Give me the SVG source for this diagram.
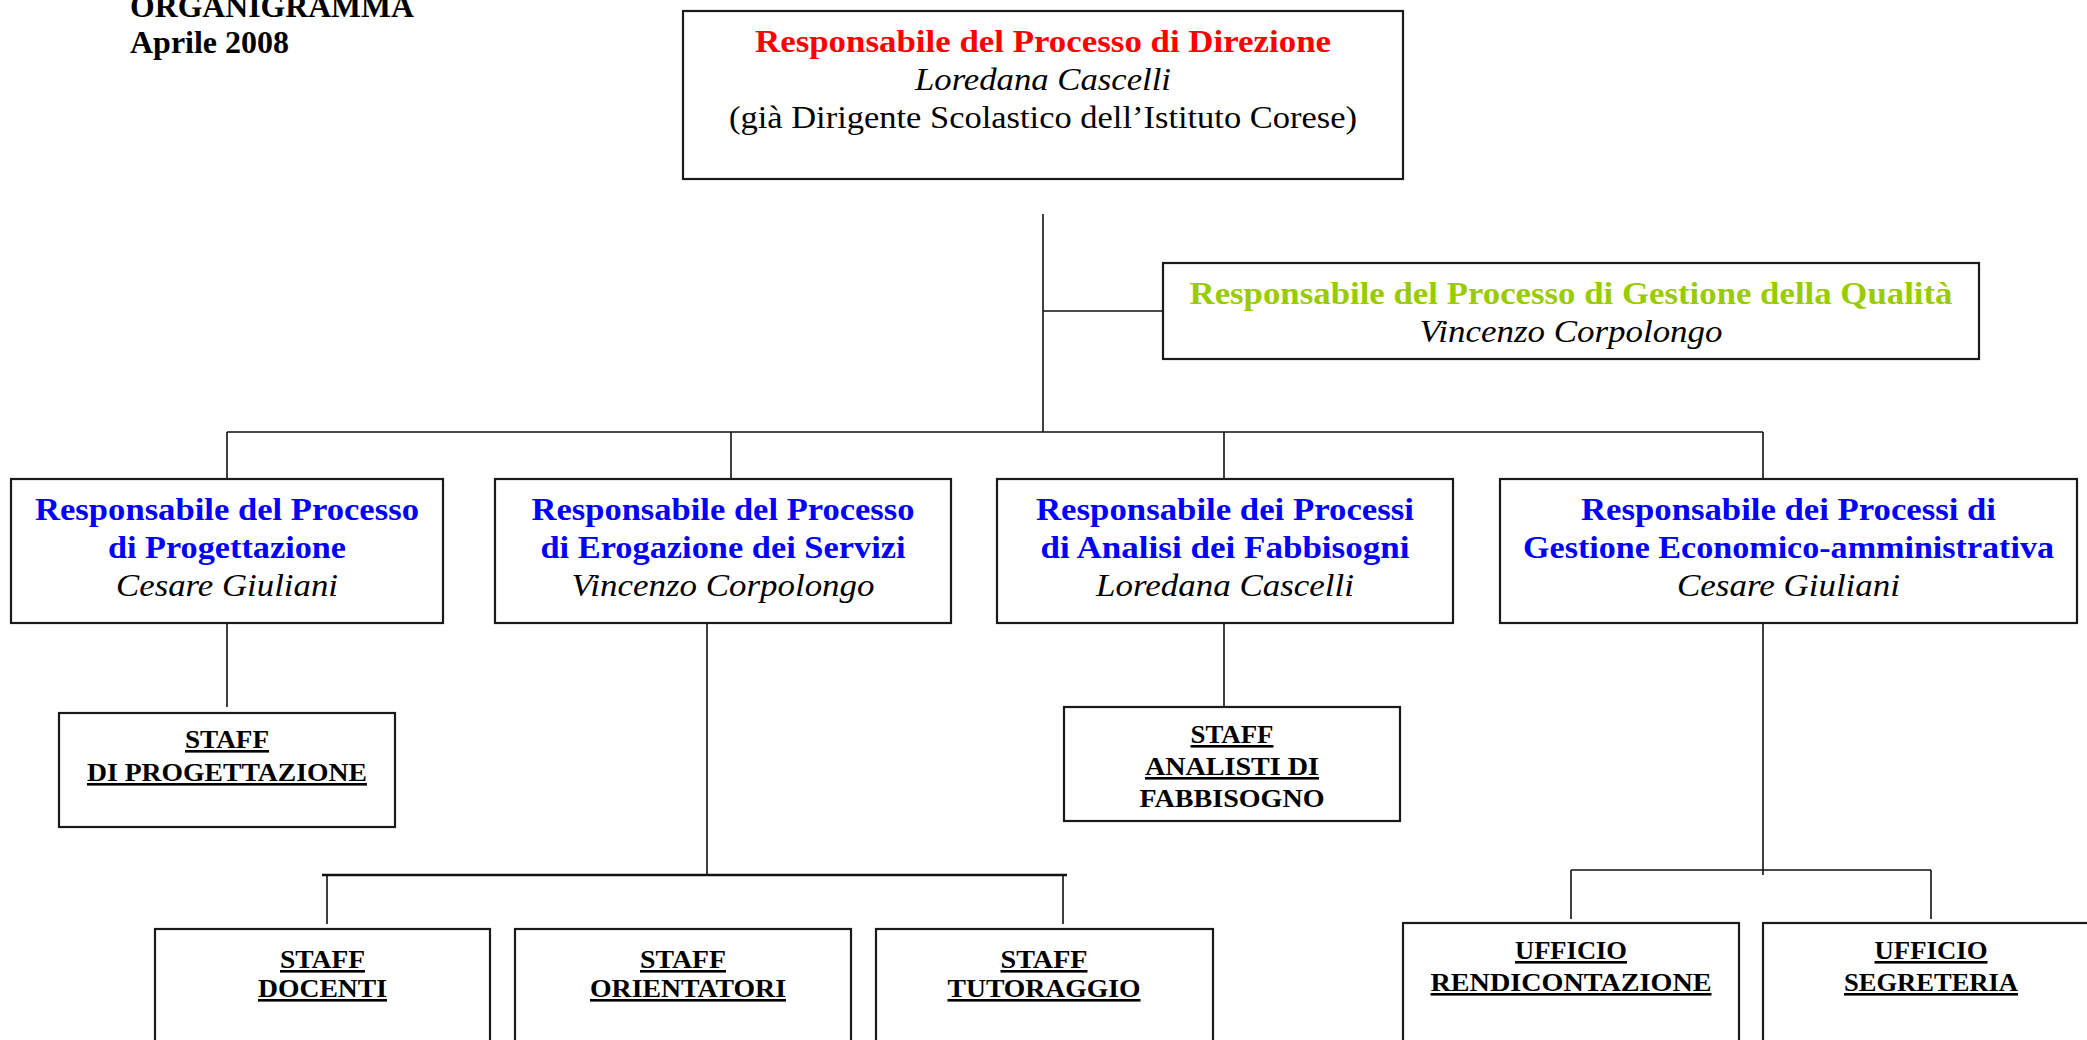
<svg xmlns="http://www.w3.org/2000/svg" width="2087" height="1040" viewBox="0 0 2087 1040">
<style>
text{font-family:"Liberation Serif","Times New Roman",serif;text-anchor:middle;fill:#000}
.box{fill:#fff;stroke:#1a1a1a;stroke-width:2.2}
.h{font-size:31px;font-weight:bold}
.red{fill:#ff0000}
.blue{fill:#0000ff}
.green{fill:#99cc00}
.it{font-size:31px;font-style:italic}
.reg{font-size:31px}
.st{font-size:26px;font-weight:bold}
.u{text-decoration:underline}
.title{font-size:31px;font-weight:bold;text-anchor:start}
.con{fill:none;stroke:#111;stroke-width:1.6}
.bar{fill:none;stroke:#111;stroke-width:2.6}
</style>
<g id="title">
<text class="title" x="130" y="17" textLength="284" lengthAdjust="spacingAndGlyphs">ORGANIGRAMMA</text>
<text class="title" x="130" y="53" textLength="159" lengthAdjust="spacingAndGlyphs">Aprile 2008</text>
</g>
<g id="connectors">
<path class="con" d="M1043 214V432M1043 311H1163M227 432H1763M227 432V479M731 432V479M1224 432V479M1763 432V479"/>
<path class="con" d="M227 623V707M707 623V875M1224 623V707M1763 623V875"/>
<path class="bar" d="M322 875H1067"/>
<path class="con" d="M327 875V924M1063 875V924"/>
<path class="con" d="M1571 870H1931M1571 870V919M1931 870V919"/>
</g>
<g id="direzione">
<rect class="box" x="683" y="11" width="720" height="168"/>
<text class="h red" x="1043" y="52" textLength="576" lengthAdjust="spacingAndGlyphs">Responsabile del Processo di Direzione</text>
<text class="it" x="1043" y="90" textLength="256" lengthAdjust="spacingAndGlyphs">Loredana Cascelli</text>
<text class="reg" x="1043" y="128" textLength="628" lengthAdjust="spacingAndGlyphs">(già Dirigente Scolastico dell’Istituto Corese)</text>
</g>
<g id="qualita">
<rect class="box" x="1163" y="263" width="816" height="96"/>
<text class="h green" x="1571" y="304" textLength="763" lengthAdjust="spacingAndGlyphs">Responsabile del Processo di Gestione della Qualità</text>
<text class="it" x="1571" y="342" textLength="303" lengthAdjust="spacingAndGlyphs">Vincenzo Corpolongo</text>
</g>
<g id="progettazione">
<rect class="box" x="11" y="479" width="432" height="144"/>
<text class="h blue" x="227" y="520" textLength="384" lengthAdjust="spacingAndGlyphs">Responsabile del Processo</text>
<text class="h blue" x="227" y="558" textLength="238" lengthAdjust="spacingAndGlyphs">di Progettazione</text>
<text class="it" x="227" y="596" textLength="222" lengthAdjust="spacingAndGlyphs">Cesare Giuliani</text>
</g>
<g id="erogazione">
<rect class="box" x="495" y="479" width="456" height="144"/>
<text class="h blue" x="723" y="520" textLength="383" lengthAdjust="spacingAndGlyphs">Responsabile del Processo</text>
<text class="h blue" x="723" y="558" textLength="365" lengthAdjust="spacingAndGlyphs">di Erogazione dei Servizi</text>
<text class="it" x="723" y="596" textLength="303" lengthAdjust="spacingAndGlyphs">Vincenzo Corpolongo</text>
</g>
<g id="analisi">
<rect class="box" x="997" y="479" width="456" height="144"/>
<text class="h blue" x="1225" y="520" textLength="378" lengthAdjust="spacingAndGlyphs">Responsabile dei Processi</text>
<text class="h blue" x="1225" y="558" textLength="369" lengthAdjust="spacingAndGlyphs">di Analisi dei Fabbisogni</text>
<text class="it" x="1225" y="596" textLength="258" lengthAdjust="spacingAndGlyphs">Loredana Cascelli</text>
</g>
<g id="economico">
<rect class="box" x="1500" y="479" width="577" height="144"/>
<text class="h blue" x="1788.5" y="520" textLength="415" lengthAdjust="spacingAndGlyphs">Responsabile dei Processi di</text>
<text class="h blue" x="1788.5" y="558" textLength="531" lengthAdjust="spacingAndGlyphs">Gestione Economico-amministrativa</text>
<text class="it" x="1788.5" y="596" textLength="223" lengthAdjust="spacingAndGlyphs">Cesare Giuliani</text>
</g>
<g id="staff-progettazione">
<rect class="box" x="59" y="713" width="336" height="114"/>
<text class="st u" x="227" y="748" textLength="84" lengthAdjust="spacingAndGlyphs">STAFF</text>
<text class="st u" x="227" y="781" textLength="280" lengthAdjust="spacingAndGlyphs">DI PROGETTAZIONE</text>
</g>
<g id="staff-analisti">
<rect class="box" x="1064" y="707" width="336" height="114"/>
<text class="st u" x="1232" y="743" textLength="83" lengthAdjust="spacingAndGlyphs">STAFF</text>
<text class="st u" x="1232" y="775" textLength="174" lengthAdjust="spacingAndGlyphs">ANALISTI DI</text>
<text class="st" x="1232" y="807" textLength="185" lengthAdjust="spacingAndGlyphs">FABBISOGNO</text>
</g>
<g id="staff-docenti">
<rect class="box" x="155" y="929" width="335" height="150"/>
<text class="st u" x="322.5" y="968" textLength="85" lengthAdjust="spacingAndGlyphs">STAFF</text>
<text class="st u" x="322.5" y="997" textLength="129" lengthAdjust="spacingAndGlyphs">DOCENTI</text>
</g>
<g id="staff-orientatori">
<rect class="box" x="515" y="929" width="336" height="150"/>
<text class="st u" x="683" y="968" textLength="86" lengthAdjust="spacingAndGlyphs">STAFF</text>
<text class="st u" x="688" y="997" textLength="196" lengthAdjust="spacingAndGlyphs">ORIENTATORI</text>
</g>
<g id="staff-tutoraggio">
<rect class="box" x="876" y="929" width="337" height="150"/>
<text class="st u" x="1044" y="968" textLength="87" lengthAdjust="spacingAndGlyphs">STAFF</text>
<text class="st u" x="1044" y="997" textLength="193" lengthAdjust="spacingAndGlyphs">TUTORAGGIO</text>
</g>
<g id="ufficio-rendicontazione">
<rect class="box" x="1403" y="923" width="336" height="150"/>
<text class="st u" x="1571" y="959" textLength="112" lengthAdjust="spacingAndGlyphs">UFFICIO</text>
<text class="st u" x="1571" y="991" textLength="281" lengthAdjust="spacingAndGlyphs">RENDICONTAZIONE</text>
</g>
<g id="ufficio-segreteria">
<rect class="box" x="1763" y="923" width="340" height="150"/>
<text class="st u" x="1931" y="959" textLength="113" lengthAdjust="spacingAndGlyphs">UFFICIO</text>
<text class="st u" x="1931" y="991" textLength="174" lengthAdjust="spacingAndGlyphs">SEGRETERIA</text>
</g>
</svg>
